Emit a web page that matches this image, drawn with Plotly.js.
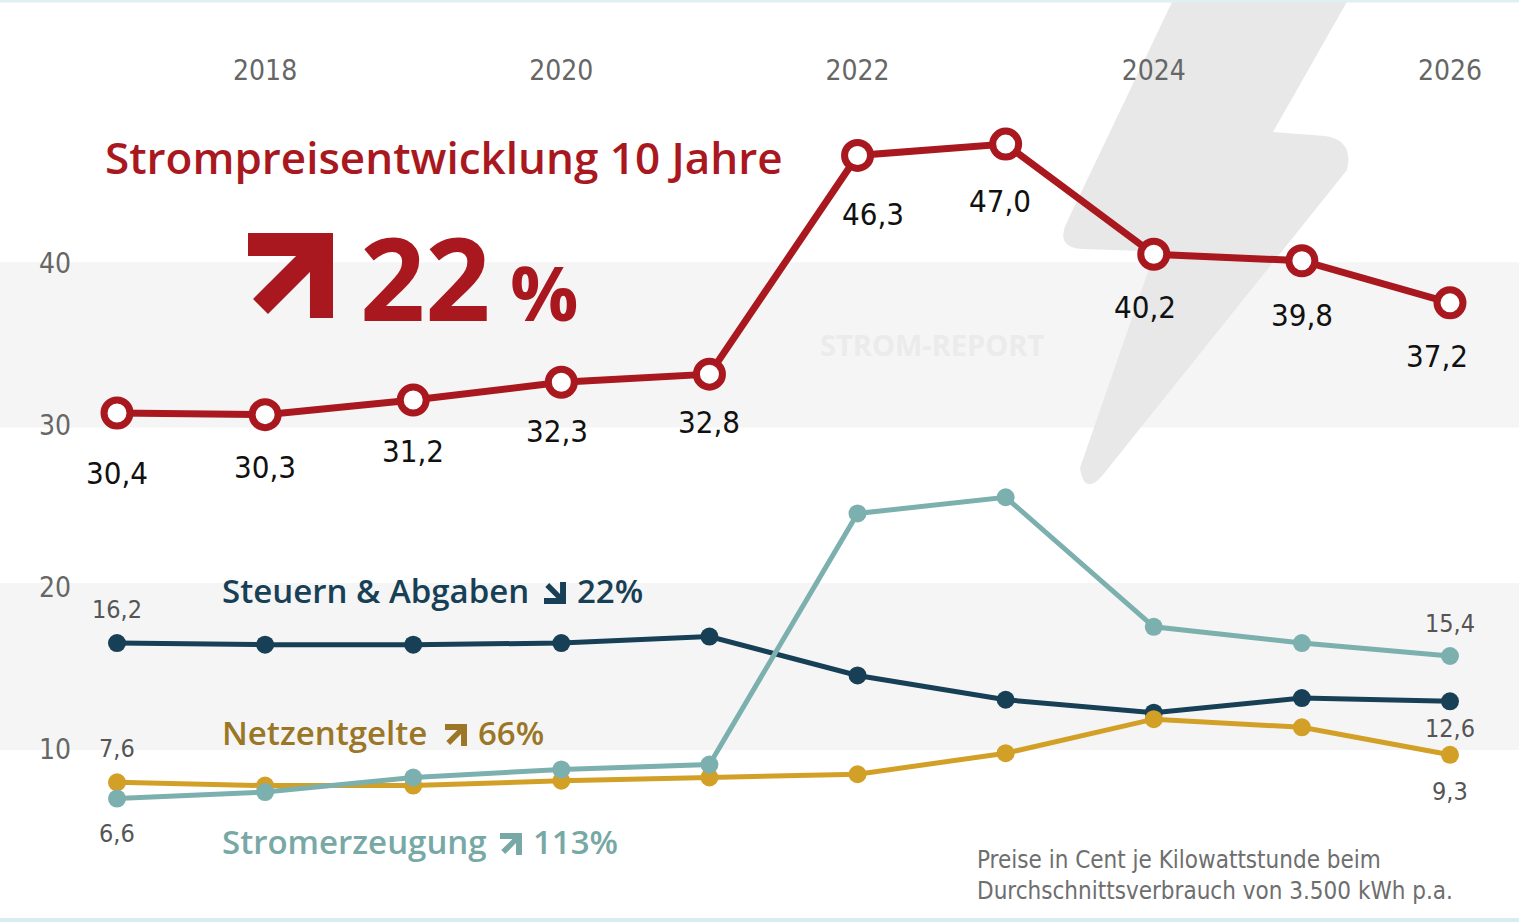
<!DOCTYPE html>
<html>
<head>
<meta charset="utf-8">
<script src="https://cdn.plot.ly/plotly-3.0.1.min.js"></script>
<style>html,body{margin:0;padding:0;background:#fff;}#chart{width:1519px;height:922px;}</style>
</head>
<body>
<div id="chart"></div>
<script>
// ---- data ----
const years = [2017, 2018, 2019, 2020, 2021, 2022, 2023, 2024, 2025, 2026];
const strompreis = [30.4, 30.3, 31.2, 32.3, 32.8, 46.3, 47.0, 40.2, 39.8, 37.2];
const steuernAbgaben = [16.2, 16.1, 16.1, 16.2, 16.6, 14.2, 12.7, 11.9, 12.8, 12.6];
const netzentgelte = [7.6, 7.4, 7.4, 7.7, 7.9, 8.1, 9.4, 11.5, 11.0, 9.3];
const stromerzeugung = [6.6, 7.0, 7.9, 8.4, 8.7, 24.2, 25.2, 17.2, 16.2, 15.4];
const xTickVals = [2018, 2020, 2022, 2024, 2026];
const xTickText = ['2018', '2020', '2022', '2024', '2026'];
const yTickVals = [10, 20, 30, 40];
const yTickText = ['10', '20', '30', '40'];
const titleText = 'Strompreisentwicklung 10 Jahre';
const changeTotal = '22';
const seriesNames = ['Steuern & Abgaben', 'Netzentgelte', 'Stromerzeugung'];
const seriesDown = [true, false, false];
const seriesChanges = ['22%', '66%', '113%'];
const footnote = 'Preise in Cent je Kilowattstunde beim<br>Durchschnittsverbrauch von 3.500 kWh p.a.';
const watermark = 'STROM-REPORT';

// ---- styling ----
const W = 1519, H = 922, MT = 90;
const RED = '#a8181e', NAVY = '#173f55', GOLD = '#d3a027', TEAL = '#7cb0ae';
const NARROW = 'Liberation Sans Narrow, Arial Narrow, DejaVu Sans Condensed, sans-serif';
const SANS = 'Open Sans, Noto Sans, sans-serif';
// label offsets (pixels) for the red value labels
const redLabelDx = [0, 0, 0, -4, 0, 15, -6, -9, 0, -13];
const redLabelDy = [-60, -52, -51, -49, -48, -59, -57, -53, -54, -53];
const fmt = v => v.toFixed(1).replace('.', ',');
const px = (x) => x / W;
const py = (y) => (H - y) / (H - MT);
const P = (p) => px(p[0]).toFixed(5) + ',' + py(p[1]).toFixed(5);
function pathFrom(pts) {
  return 'M' + pts.map(P).join(' L') + ' Z';
}
// arrow icon (up-right), unit square outline
const ARROW = [[0,0],[1,0],[1,1],[0.729,1],[0.729,0.459],[0.235,0.953],[0.059,0.776],[0.565,0.271],[0,0.271]];
function arrowPath(x0, y0, size, down) {
  return pathFrom(ARROW.map(p => [x0 + p[0] * size, y0 + (down ? 1 - p[1] : p[1]) * size]));
}

function smallTrace(y, color) {
  return {x: years, y: y, type: 'scatter', mode: 'lines+markers', cliponaxis: false,
    line: {color: color, width: 5}, marker: {color: color, size: 18}, hoverinfo: 'skip'};
}
const traces = [
  smallTrace(steuernAbgaben, NAVY),
  smallTrace(netzentgelte, GOLD),
  smallTrace(stromerzeugung, TEAL),
  {x: years, y: strompreis, type: 'scatter', mode: 'lines+markers', cliponaxis: false,
   line: {color: RED, width: 7},
   marker: {color: '#ffffff', size: 26, line: {color: RED, width: 7}}, hoverinfo: 'skip'}
];

const annotations = [];
// red value labels
years.forEach((yr, i) => annotations.push({x: yr, y: strompreis[i], xref: 'x', yref: 'y',
  text: fmt(strompreis[i]), showarrow: false, xshift: redLabelDx[i], yshift: redLabelDy[i],
  font: {family: NARROW, size: 31, color: '#111111'}}));
// first / last labels of component series
function endLabel(series, idx, shift) {
  annotations.push({x: years[idx], y: series[idx], xref: 'x', yref: 'y', text: fmt(series[idx]),
    showarrow: false, yshift: shift, font: {family: NARROW, size: 25, color: '#555555'}});
}
const last = years.length - 1;
endLabel(steuernAbgaben, 0, 34); endLabel(steuernAbgaben, last, -27);
endLabel(netzentgelte, 0, 34); endLabel(netzentgelte, last, -37);
endLabel(stromerzeugung, 0, -35); endLabel(stromerzeugung, last, 33);

// title and headline
annotations.push({xref: 'paper', yref: 'paper', x: px(103), y: py(157), xanchor: 'left', yanchor: 'middle',
  text: titleText, showarrow: false, font: {family: SANS, size: 44, weight: 600, color: RED}});
annotations.push({xref: 'paper', yref: 'paper', x: px(358), y: py(276), xanchor: 'left', yanchor: 'middle',
  text: '<b>' + changeTotal + '<span style="font-size:76px"> %</span></b>', showarrow: false,
  font: {family: SANS, size: 114, color: RED}});
// series labels: name, arrow icon, change
const slColors = [NAVY, '#9a7626', '#78a8a6'];
const slY = [590, 732, 841];
const slArrowX = [544, 445, 500];
const slChangeX = [575, 476, 531];
const shapes = [];
seriesNames.forEach((t, i) => {
  const f = {family: SANS, size: 33, weight: 600, color: slColors[i]};
  annotations.push({xref: 'paper', yref: 'paper', x: px(220), y: py(slY[i]),
    xanchor: 'left', yanchor: 'middle', showarrow: false, text: t, font: f});
  annotations.push({xref: 'paper', yref: 'paper', x: px(slChangeX[i]), y: py(slY[i]),
    xanchor: 'left', yanchor: 'middle', showarrow: false, text: seriesChanges[i], font: f});
  shapes.push({type: 'path', xref: 'paper', yref: 'paper', layer: 'above', fillcolor: slColors[i],
    line: {width: 0}, path: arrowPath(slArrowX[i], slY[i] - 8, 22, seriesDown[i])});
});
// footnote
annotations.push({xref: 'paper', yref: 'paper', x: px(975), y: py(875), xanchor: 'left', yanchor: 'middle',
  align: 'left', text: footnote, showarrow: false, font: {family: NARROW, size: 24, color: '#6e6e6e'}});
// watermark
annotations.push({xref: 'paper', yref: 'paper', x: px(932), y: py(344), xanchor: 'center', yanchor: 'middle',
  text: '<b>' + watermark + '</b>', showarrow: false, font: {family: SANS, size: 29, color: '#ebebeb'}});

const boltPath = 'M' + P([1173,0]) + ' L' + P([1348,0]) + ' L' + P([1273,132]) + ' L' + P([1325,136]) +
  ' Q' + P([1354,140]) + ' ' + P([1347,170]) + ' L' + P([1102,476]) + ' Q' + P([1084,496]) + ' ' + P([1080,468]) +
  ' L' + P([1152,260]) + ' Q' + P([1155,251]) + ' ' + P([1144,251]) + ' L' + P([1082,249]) +
  ' Q' + P([1056,247]) + ' ' + P([1066,224]) + ' Z';

shapes.unshift(
  {type: 'rect', xref: 'paper', yref: 'y', x0: 0, x1: 1, y0: 29.5, y1: 39.7, fillcolor: '#f5f5f5', line: {width: 0}, layer: 'below'},
  {type: 'rect', xref: 'paper', yref: 'y', x0: 0, x1: 1, y0: 9.6, y1: 19.9, fillcolor: '#f5f5f5', line: {width: 0}, layer: 'below'},
  {type: 'path', xref: 'paper', yref: 'paper', layer: 'below', fillcolor: '#e8e8e8', line: {width: 0}, path: boltPath},
  {type: 'path', xref: 'paper', yref: 'paper', layer: 'above', fillcolor: RED, line: {width: 0}, path: arrowPath(248, 233, 85, false)},
  {type: 'line', xref: 'paper', yref: 'paper', x0: 0, x1: 1, y0: py(1), y1: py(1), line: {color: '#dff0f3', width: 3}},
  {type: 'line', xref: 'paper', yref: 'paper', x0: 0, x1: 1, y0: py(920), y1: py(920), line: {color: '#d9ecf3', width: 4}}
);

const layout = {
  width: W, height: H, margin: {l: 0, r: 0, t: MT, b: 0},
  paper_bgcolor: '#ffffff', plot_bgcolor: 'rgba(0,0,0,0)', showlegend: false,
  xaxis: {range: [2016.21, 2026.466], side: 'top', tickvals: xTickVals, ticktext: xTickText,
    showgrid: false, zeroline: false, showline: false, ticks: '', fixedrange: true,
    tickfont: {family: NARROW, size: 28, color: '#666666'}, ticklabelstandoff: 3},
  yaxis: {range: [-1.02, 50.34], tickvals: yTickVals, ticktext: yTickText, ticklabelposition: 'inside',
    ticklabelstandoff: 36, ticklabelshift: 6, showgrid: false, zeroline: false, showline: false, ticks: '', fixedrange: true,
    tickfont: {family: NARROW, size: 28, color: '#666666'}},
  shapes: shapes, annotations: annotations, hovermode: false
};
Plotly.newPlot('chart', traces, layout, {staticPlot: true, displayModeBar: false});
</script>
</body>
</html>
